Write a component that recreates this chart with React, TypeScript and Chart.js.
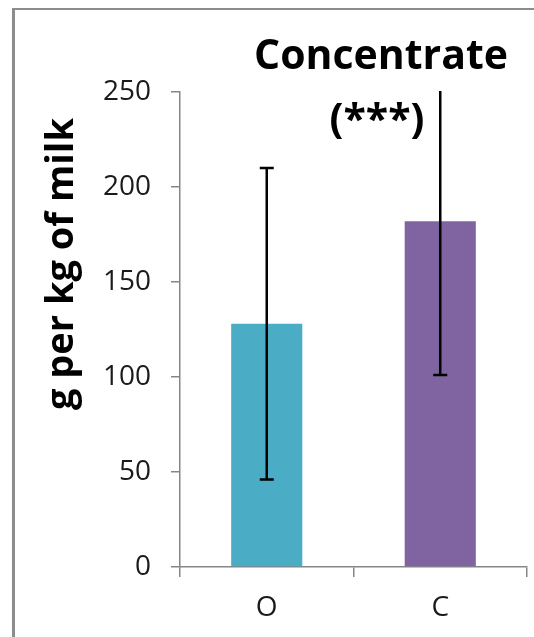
import React, { useEffect, useRef } from "react";
import { Chart, registerables } from "chart.js";

Chart.register(...registerables);

const categories = ["O", "C"];
const values = [128, 182];
const errLow = [46, 101];
const errHigh = [210, 263];
const barColors = ["#4BACC6", "#8064A2"];
const yTicks = [0, 50, 100, 150, 200, 250];
const titleLines = ["Concentrate", "(***)"];
const yTitle = "g per kg of milk";

const errorBarPlugin = {
  id: "errorBars",
  afterDatasetsDraw(chart: any) {
    const meta = chart.getDatasetMeta(0);
    const y = chart.scales.y;
    const ctx = chart.ctx;
    const area = chart.chartArea;
    ctx.save();
    ctx.beginPath();
    ctx.rect(area.left, area.top - 1, area.right - area.left, area.bottom - area.top + 2);
    ctx.clip();
    ctx.strokeStyle = "#000";
    ctx.lineWidth = 2.5;
    meta.data.forEach((bar: any, i: number) => {
      const x = bar.x;
      const yl = y.getPixelForValue(errLow[i]);
      const yh = y.getPixelForValue(errHigh[i]);
      ctx.beginPath();
      ctx.moveTo(x, yl);
      ctx.lineTo(x, yh);
      ctx.moveTo(x - 7, yl);
      ctx.lineTo(x + 7, yl);
      ctx.moveTo(x - 7, yh);
      ctx.lineTo(x + 7, yh);
      ctx.stroke();
    });
    ctx.restore();
  },
};

const textPlugin = {
  id: "texts",
  afterDraw(chart: any) {
    const ctx = chart.ctx;
    ctx.save();
    ctx.fillStyle = "#000";
    ctx.textAlign = "center";
    ctx.textBaseline = "alphabetic";
    ctx.font = "bold 41px 'Open Sans'";
    ctx.fillText(titleLines[0], 381, 69);
    ctx.fillText(titleLines[1], 377, 133);
    ctx.translate(73, 264);
    ctx.rotate(-Math.PI / 2);
    ctx.font = "bold 38px 'Open Sans'";
    ctx.fillText(yTitle, 0, 0);
    ctx.restore();
  },
};

export default function App() {
  const ref = useRef<HTMLCanvasElement>(null);
  useEffect(() => {
    if (!ref.current) return;
    const chart = new Chart(ref.current, {
      type: "bar",
      data: {
        labels: categories,
        datasets: [
          {
            data: values,
            backgroundColor: barColors,
            borderWidth: 0,
            barPercentage: 0.41,
            categoryPercentage: 1,
          },
        ],
      },
      options: {
        responsive: false,
        animation: false,
        layout: { padding: { top: 92, right: 7, left: 0, bottom: 0 } },
        plugins: { legend: { display: false }, tooltip: { enabled: false }, title: { display: false } },
        scales: {
          x: {
            grid: { display: true, drawOnChartArea: false, drawTicks: true, tickLength: 10, color: "#868686", lineWidth: 1.5 },
            border: { display: true, color: "#868686", width: 1.5 },
            ticks: { font: { family: "'Open Sans'", size: 28 }, color: "#1a1a1a", padding: 14 },
            afterFit: (s: any) => {
              s.height = 70;
            },
          },
          y: {
            min: 0,
            max: 250,
            grid: { display: true, drawOnChartArea: false, drawTicks: true, tickLength: 9, color: "#868686", lineWidth: 1.5 },
            border: { display: true, color: "#868686", width: 1.5 },
            ticks: {
              stepSize: 50,
              font: { family: "'Open Sans'", size: 28 },
              color: "#1a1a1a",
              padding: 20,
              callback: (v: any) => (yTicks.includes(Number(v)) ? String(v) : ""),
            },
            afterFit: (s: any) => {
              s.width = 180;
            },
          },
        },
      },
      plugins: [errorBarPlugin, textPlugin],
    });
    return () => chart.destroy();
  }, []);
  return (
    <div style={{ position: "fixed", left: 0, top: 0, width: 534, height: 637, background: "#fff", overflow: "hidden" }}>
      <div
        style={{
          position: "absolute",
          left: 12,
          top: 8,
          width: 600,
          height: 700,
          borderLeft: "3px solid #8c8c8c",
          borderTop: "2px solid #8c8c8c",
        }}
      />
      <canvas ref={ref} width={534} height={637} style={{ position: "absolute", left: 0, top: 0, display: "block" }} />
    </div>
  );
}
